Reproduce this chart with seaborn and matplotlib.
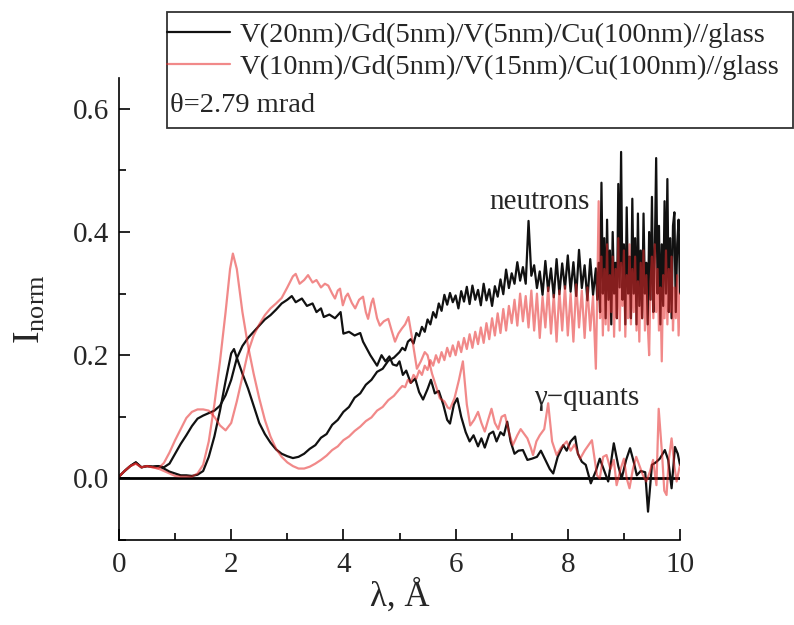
import numpy as np
import pandas as pd
import matplotlib
matplotlib.use("Agg")
import matplotlib.pyplot as plt
from matplotlib.patches import Rectangle
from matplotlib.ticker import MultipleLocator
import seaborn as sns

# ---------------- data ----------------
# sample 1: V(20nm)/Gd(5nm)/V(5nm)/Cu(100nm)//glass  (black)
bn_x_smooth = [0.0, 0.1, 0.2, 0.3, 0.4, 0.5, 0.6, 0.7, 0.8, 0.9, 1.0, 1.1, 1.2, 1.3, 1.4,
               1.5, 1.6, 1.7, 1.8, 1.9, 2.0, 2.05, 2.1, 2.2, 2.3, 2.4, 2.5, 2.6, 2.7, 2.8,
               2.9, 3.0, 3.1, 3.2, 3.3, 3.4, 3.5, 3.6, 3.7, 3.8, 3.9, 4.0, 4.1, 4.2, 4.3,
               4.4, 4.5, 4.6, 4.7, 4.8, 4.9]
bn_y_smooth = [0.003, 0.012, 0.02, 0.026, 0.018, 0.02, 0.019, 0.02, 0.016, 0.011, 0.008,
               0.005, 0.005, 0.004, 0.006, 0.012, 0.035, 0.068, 0.11, 0.158, 0.203, 0.21,
               0.196, 0.17, 0.146, 0.118, 0.09, 0.072, 0.058, 0.047, 0.04, 0.036, 0.033,
               0.035, 0.04, 0.048, 0.054, 0.066, 0.072, 0.087, 0.095, 0.108, 0.116, 0.131,
               0.138, 0.152, 0.16, 0.173, 0.178, 0.191, 0.196]
bn_y_mid = [0.205, 0.212, 0.208, 0.222, 0.226, 0.219, 0.236, 0.231, 0.246, 0.238, 0.258,
            0.25, 0.27, 0.261, 0.284, 0.272, 0.298, 0.282, 0.301, 0.286, 0.297, 0.276,
            0.304, 0.287, 0.311, 0.283, 0.313, 0.29, 0.306, 0.281, 0.316, 0.289, 0.307,
            0.28, 0.312, 0.295, 0.323, 0.299, 0.339, 0.309, 0.333, 0.316, 0.351, 0.321,
            0.343, 0.316, 0.418, 0.329, 0.346, 0.309, 0.336, 0.298, 0.353, 0.304, 0.341,
            0.294, 0.356, 0.299, 0.349, 0.308, 0.362, 0.303, 0.351, 0.296, 0.371, 0.309,
            0.346, 0.289, 0.356, 0.298, 0.341]          # 5.00 .. 8.50
bn_y_end = [0.29, 0.35, 0.27, 0.48, 0.3, 0.39, 0.26, 0.42, 0.29, 0.37, 0.25, 0.40, 0.3,
            0.35, 0.26, 0.478, 0.31, 0.53, 0.29, 0.38, 0.25, 0.44, 0.3, 0.36, 0.26, 0.454,
            0.3, 0.39, 0.25, 0.43, 0.28, 0.37, 0.26, 0.43, 0.3, 0.35, 0.25, 0.40, 0.29,
            0.457, 0.27, 0.36, 0.52, 0.3, 0.41, 0.25, 0.38, 0.28, 0.45, 0.3, 0.486, 0.27,
            0.39, 0.26, 0.41, 0.432, 0.27, 0.38, 0.42, 0.3]   # 8.525 .. 10.0

bg_x = [0.0, 0.1, 0.2, 0.3, 0.4, 0.5, 0.6, 0.7, 0.8, 0.9, 1.0, 1.1, 1.2, 1.3, 1.4, 1.5,
        1.6, 1.7, 1.8, 1.9, 2.0, 2.1, 2.2, 2.3, 2.4, 2.5, 2.6, 2.7, 2.8, 2.9, 3.0, 3.08,
        3.15, 3.26, 3.35, 3.45, 3.52, 3.6, 3.65, 3.75, 3.85, 3.95, 4.0, 4.1, 4.2, 4.3,
        4.35, 4.42, 4.48, 4.55, 4.6, 4.68, 4.75, 4.82, 4.88, 4.95, 5.0, 5.06, 5.12, 5.2,
        5.28, 5.35, 5.42, 5.5, 5.56, 5.63, 5.7, 5.78, 5.85, 5.9, 5.97, 6.03, 6.1, 6.18,
        6.25, 6.32, 6.4, 6.46, 6.52, 6.6, 6.67, 6.73, 6.8, 6.86, 6.92, 6.98, 7.05, 7.12,
        7.2, 7.28, 7.36, 7.45, 7.52, 7.6, 7.68, 7.74, 7.82, 7.92, 7.98, 8.05, 8.13, 8.18,
        8.25, 8.32, 8.41, 8.5, 8.57, 8.65, 8.72, 8.82, 8.9, 8.96, 9.04, 9.11, 9.18, 9.23,
        9.3, 9.38, 9.43, 9.5, 9.57, 9.64, 9.73, 9.79, 9.85, 9.91, 9.96, 10.0]
bg_y = [0.003, 0.012, 0.02, 0.026, 0.018, 0.02, 0.019, 0.02, 0.018, 0.024, 0.04, 0.056,
        0.07, 0.085, 0.097, 0.102, 0.106, 0.11, 0.118, 0.135, 0.16, 0.195, 0.215, 0.228,
        0.238, 0.248, 0.258, 0.265, 0.274, 0.284, 0.29, 0.296, 0.286, 0.292, 0.28, 0.284,
        0.27, 0.276, 0.262, 0.266, 0.26, 0.27, 0.235, 0.238, 0.232, 0.236, 0.222, 0.21,
        0.2, 0.19, 0.183, 0.2, 0.19, 0.198, 0.185, 0.183, 0.19, 0.168, 0.175, 0.155, 0.162,
        0.14, 0.128, 0.145, 0.16, 0.138, 0.142, 0.12, 0.095, 0.089, 0.12, 0.13, 0.1, 0.075,
        0.06, 0.07, 0.052, 0.065, 0.05, 0.072, 0.076, 0.06, 0.075, 0.07, 0.092, 0.06, 0.04,
        0.045, 0.046, 0.03, 0.032, 0.035, 0.045, 0.03, 0.015, 0.008, 0.035, 0.054, 0.045,
        0.06, 0.068, 0.04, 0.027, 0.022, -0.008, 0.012, 0.032, 0.012, -0.005, 0.057, 0.02,
        0.0, 0.03, 0.049, 0.025, 0.005, 0.012, 0.01, -0.054, 0.022, 0.026, 0.032, 0.046,
        0.03, -0.016, 0.051, 0.04, 0.022]

# sample 2: V(10nm)/Gd(5nm)/V(15nm)/Cu(100nm)//glass  (pink)
pn_x_smooth = [0.0, 0.1, 0.2, 0.3, 0.4, 0.5, 0.6, 0.7, 0.8, 0.9, 1.0, 1.1, 1.2, 1.3, 1.4,
               1.5, 1.6, 1.7, 1.8, 1.9, 1.98, 2.03, 2.1, 2.2, 2.3, 2.4, 2.5, 2.6, 2.7, 2.8,
               2.9, 3.0, 3.1, 3.2, 3.3, 3.4, 3.5, 3.6, 3.7, 3.8, 3.9, 4.0, 4.1, 4.2, 4.3,
               4.4, 4.5, 4.6, 4.7, 4.8, 4.9]
pn_y_smooth = [0.003, 0.012, 0.02, 0.024, 0.018, 0.02, 0.018, 0.016, 0.012, 0.008, 0.004,
               0.003, 0.003, 0.003, 0.008, 0.022, 0.06, 0.12, 0.19, 0.27, 0.34, 0.365,
               0.34, 0.27, 0.215, 0.17, 0.13, 0.095, 0.068, 0.048, 0.035, 0.026, 0.02,
               0.016, 0.016, 0.019, 0.024, 0.03, 0.037, 0.046, 0.052, 0.062, 0.068, 0.077,
               0.084, 0.093, 0.099, 0.11, 0.116, 0.127, 0.134]
pn_y_mid = [0.145, 0.15, 0.148, 0.16, 0.155, 0.168, 0.162, 0.175, 0.168, 0.183, 0.176,
            0.192, 0.183, 0.2, 0.188, 0.205, 0.192, 0.212, 0.198, 0.216, 0.2, 0.222, 0.205,
            0.228, 0.21, 0.234, 0.212, 0.238, 0.218, 0.245, 0.22, 0.252, 0.226, 0.26,
            0.232, 0.268, 0.236, 0.275, 0.24, 0.28, 0.252, 0.29, 0.248, 0.3, 0.255, 0.296,
            0.245, 0.305, 0.24, 0.3, 0.228, 0.295, 0.245, 0.31, 0.235, 0.298, 0.222, 0.305,
            0.24, 0.312, 0.232, 0.3, 0.222, 0.315, 0.245, 0.305, 0.228, 0.31, 0.24, 0.296,
            0.178]                                       # 5.00 .. 8.50
pn_y_end = [0.3, 0.45, 0.26, 0.36, 0.232, 0.34, 0.25, 0.38, 0.24, 0.33, 0.27, 0.36, 0.23,
            0.34, 0.26, 0.39, 0.24, 0.35, 0.28, 0.37, 0.23, 0.33, 0.26, 0.38, 0.25, 0.34,
            0.27, 0.36, 0.24, 0.32, 0.222, 0.35, 0.26, 0.37, 0.24, 0.33, 0.25, 0.2, 0.32,
            0.36, 0.26, 0.38, 0.27, 0.34, 0.24, 0.31, 0.19, 0.33, 0.26, 0.37, 0.25, 0.34,
            0.27, 0.36, 0.24, 0.31, 0.26, 0.33, 0.232, 0.3]   # 8.525 .. 10.0

pg_x = [0.0, 0.1, 0.2, 0.3, 0.4, 0.5, 0.6, 0.7, 0.8, 0.9, 1.0, 1.1, 1.2, 1.3, 1.4, 1.5,
        1.6, 1.7, 1.8, 1.9, 2.0, 2.1, 2.2, 2.3, 2.4, 2.5, 2.6, 2.7, 2.8, 2.9, 3.0, 3.1,
        3.15, 3.22, 3.3, 3.37, 3.45, 3.52, 3.6, 3.67, 3.73, 3.8, 3.85, 3.9, 3.94, 3.99,
        4.04, 4.08, 4.15, 4.21, 4.28, 4.35, 4.4, 4.44, 4.5, 4.53, 4.6, 4.65, 4.72, 4.8,
        4.86, 4.92, 4.98, 5.04, 5.1, 5.16, 5.22, 5.31, 5.38, 5.45, 5.5, 5.58, 5.65, 5.72,
        5.8, 5.86, 5.9, 5.98, 6.06, 6.13, 6.2, 6.26, 6.33, 6.4, 6.46, 6.52, 6.58, 6.64,
        6.7, 6.76, 6.82, 6.88, 6.95, 7.02, 7.1, 7.16, 7.24, 7.28, 7.34, 7.38, 7.44, 7.5,
        7.58, 7.65, 7.72, 7.8, 7.88, 7.98, 8.05, 8.12, 8.22, 8.3, 8.43, 8.48, 8.52, 8.57,
        8.63, 8.69, 8.76, 8.82, 8.87, 8.94, 9.0, 9.05, 9.1, 9.16, 9.22, 9.28, 9.34, 9.4,
        9.46, 9.52, 9.58, 9.62, 9.68, 9.72, 9.76, 9.8, 9.85, 9.9, 9.94, 10.0]
pg_y = [0.003, 0.012, 0.02, 0.024, 0.018, 0.02, 0.018, 0.016, 0.025, 0.042, 0.062, 0.08,
        0.098, 0.108, 0.112, 0.112, 0.11, 0.1, 0.086, 0.078, 0.09, 0.125, 0.165, 0.205,
        0.232, 0.25, 0.265, 0.276, 0.284, 0.293, 0.31, 0.328, 0.332, 0.316, 0.322, 0.33,
        0.318, 0.322, 0.31, 0.316, 0.313, 0.3, 0.292, 0.305, 0.308, 0.281, 0.295, 0.3,
        0.285, 0.276, 0.29, 0.295, 0.27, 0.259, 0.285, 0.292, 0.26, 0.248, 0.255, 0.259,
        0.24, 0.222, 0.235, 0.243, 0.25, 0.262, 0.23, 0.178, 0.19, 0.205, 0.2, 0.17, 0.15,
        0.13, 0.125, 0.115, 0.113, 0.13, 0.16, 0.19, 0.12, 0.086, 0.095, 0.108, 0.09,
        0.076, 0.095, 0.113, 0.09, 0.08, 0.1, 0.103, 0.075, 0.054, 0.07, 0.08, 0.07, 0.065,
        0.05, 0.038, 0.06, 0.07, 0.08, 0.122, 0.06, 0.038, 0.05, 0.06, 0.045, 0.055, 0.032,
        0.045, 0.062, 0.03, 0.005, 0.0, 0.035, 0.038, 0.015, 0.03, -0.011, 0.015, 0.032,
        0.0, -0.016, 0.015, 0.035, 0.02, 0.005, -0.005, 0.01, 0.03, -0.011, 0.113, 0.04,
        -0.02, -0.027, 0.03, 0.065, 0.02, -0.005, 0.022]

labels = ["V(20nm)/Gd(5nm)/V(5nm)/Cu(100nm)//glass",
          "V(10nm)/Gd(5nm)/V(15nm)/Cu(100nm)//glass"]
angle_text = "θ=2.79 mrad"
x_ticks = [0, 2, 4, 6, 8, 10]
y_ticks = [0.0, 0.2, 0.4, 0.6]

# ---------------- assemble ----------------
bn_x = np.concatenate([bn_x_smooth, np.linspace(5.0, 8.5, len(bn_y_mid)),
                       np.linspace(8.525, 10.0, len(bn_y_end))])
bn_y = np.concatenate([bn_y_smooth, bn_y_mid, bn_y_end])
pn_x = np.concatenate([pn_x_smooth, np.linspace(5.0, 8.5, len(pn_y_mid)),
                       np.linspace(8.525, 10.0, len(pn_y_end))])
pn_y = np.concatenate([pn_y_smooth, pn_y_mid, pn_y_end])

curves = {
    "bn": pd.DataFrame({"lam": bn_x, "I": bn_y}),
    "bg": pd.DataFrame({"lam": bg_x, "I": bg_y}),
    "pn": pd.DataFrame({"lam": pn_x, "I": pn_y}),
    "pg": pd.DataFrame({"lam": pg_x, "I": pg_y}),
}

# ---------------- style ----------------
sns.set_style("ticks")
plt.rcParams["font.family"] = ["Liberation Serif", "DejaVu Serif"]
plt.rcParams["mathtext.fontset"] = "custom"
plt.rcParams["mathtext.rm"] = "Liberation Serif"
plt.rcParams["mathtext.it"] = "Liberation Serif:italic"

fig = plt.figure(figsize=(7.94, 6.25), dpi=100)
ax = fig.add_axes([119 / 794, 1 - 540 / 625, 561 / 794, (540 - 78) / 625])

black = "#111111"
pink = (0.90, 0.16, 0.16)
pink_alpha = 0.55

ax.axhline(0, color="black", lw=2.0, zorder=1)
sns.lineplot(data=curves["bn"], x="lam", y="I", ax=ax, color=black, lw=1.6,
             sort=False, estimator=None, label=labels[0], legend=False)
sns.lineplot(data=curves["bg"], x="lam", y="I", ax=ax, color=black, lw=1.6,
             sort=False, estimator=None, legend=False)
sns.lineplot(data=curves["pn"], x="lam", y="I", ax=ax, color=pink, alpha=pink_alpha,
             lw=1.6, sort=False, estimator=None, label=labels[1], legend=False)
sns.lineplot(data=curves["pg"], x="lam", y="I", ax=ax, color=pink, alpha=pink_alpha,
             lw=1.6, sort=False, estimator=None, legend=False)

ax.set_xlim(0, 10)
ax.set_ylim(-0.1, 0.65)
ax.set_xticks(x_ticks)
ax.set_yticks(y_ticks)
ax.set_yticklabels([f"{v:.1f}" for v in y_ticks])
ax.xaxis.set_minor_locator(MultipleLocator(1))
ax.yaxis.set_minor_locator(MultipleLocator(0.1))
ax.tick_params(which="both", direction="in", labelsize=21, width=1.2, color="black")
ax.tick_params(which="major", length=8)
ax.tick_params(which="minor", length=5)
ax.tick_params(axis="x", pad=9)
ax.tick_params(axis="y", pad=7)
sns.despine(ax=ax, top=True, right=True)
for s in ["left", "bottom"]:
    ax.spines[s].set_color("black")
    ax.spines[s].set_linewidth(1.2)

ax.set_xlabel("λ, Å", fontsize=25)
ax.set_ylabel(r"I$_{\rm norm}$", fontsize=27)
ax.xaxis.set_label_coords(0.5, -0.085)
ax.yaxis.set_label_coords(-0.128, 0.5)

ax.text(7.5, 0.449, "neutrons", fontsize=21, ha="center", va="center")
ax.text(8.33, 0.13, "γ−quants", fontsize=21, ha="center", va="center")

# legend box (figure coordinates)
fig.patches.append(Rectangle((167 / 794, 1 - 128 / 625), (793 - 167) / 794, 116 / 625,
                             transform=fig.transFigure, facecolor="white",
                             edgecolor="#333333", lw=1.3, zorder=3))
handles, labs = ax.get_legend_handles_labels()
leg = fig.legend(handles, labs, loc="upper left", bbox_to_anchor=(167 / 794, 1 - 22 / 625),
                 frameon=False, fontsize=20.5, handlelength=2.2, handletextpad=0.35,
                 borderpad=0.0, borderaxespad=0.0, labelspacing=0.22)
leg.set_zorder(4)
fig.text(170 / 794, 1 - 106 / 625, angle_text, fontsize=20.5, ha="left", va="center",
         zorder=5)

fig.savefig("out.png", dpi=100)
